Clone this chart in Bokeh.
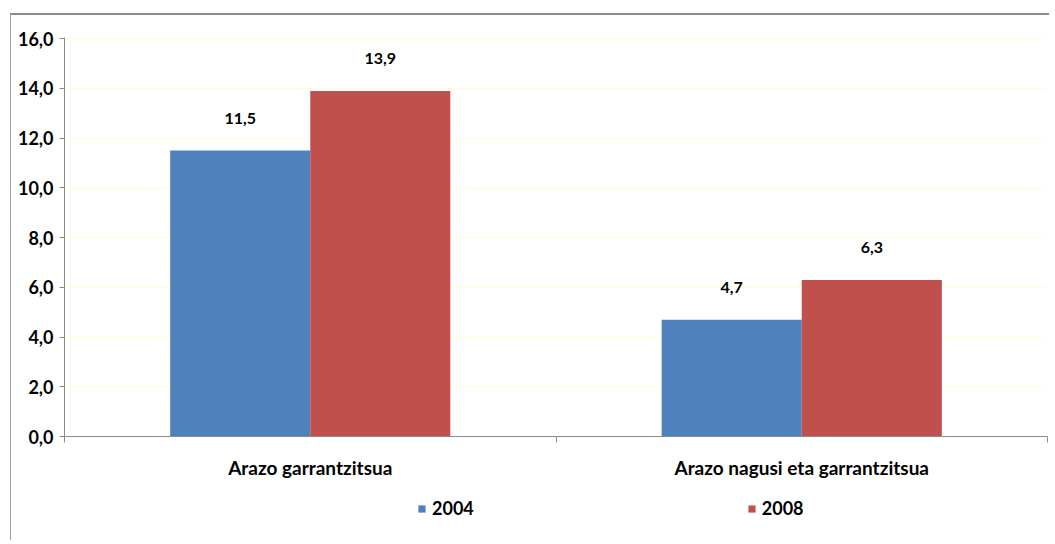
from bokeh.plotting import figure
from bokeh.layouts import column
from bokeh.models import (ColumnDataSource, FixedTicker, Range1d, Legend, LegendItem)
from bokeh.core.properties import value
from bokeh.embed import file_html
from bokeh.resources import INLINE

categories = ["Arazo garrantzitsua", "Arazo nagusi eta garrantzitsua"]
series_names = ["2004", "2008"]
values_2004 = [11.5, 4.7]
values_2008 = [13.9, 6.3]
colors = ["#4F81BD", "#C0504D"]
y_ticks = [0, 2, 4, 6, 8, 10, 12, 14, 16]
y_tick_labels = ["0,0", "2,0", "4,0", "6,0", "8,0", "10,0", "12,0", "14,0", "16,0"]

FONT = "Lato"
BAR_W = 0.285
W = 1038

p = figure(width=W, height=475, output_backend="svg", toolbar_location=None,
           x_range=Range1d(0, len(categories)), y_range=Range1d(0, 16.05),
           min_border_left=53, min_border_top=22, min_border_bottom=54, min_border_right=2)
p.outline_line_color = None
p.background_fill_color = "white"
p.border_fill_color = "white"

centers = [i + 0.5 for i in range(len(categories))]
series_values = [values_2004, values_2008]
for k, (vals, col) in enumerate(zip(series_values, colors)):
    xs = [c + (k - 0.5) * BAR_W for c in centers]
    src = ColumnDataSource(dict(x=xs, top=vals, lab=[f"{v:.1f}".replace(".", ",") for v in vals]))
    p.vbar(x="x", top="top", width=BAR_W, bottom=0, fill_color=col, line_color=None, source=src)
    p.text(x="x", y="top", text="lab", source=src, text_align="center", text_baseline="middle",
           y_offset=-32, text_font=value(FONT), text_font_style="bold", text_font_size="16px",
           text_color="black")

# grid
p.xgrid.grid_line_color = None
p.ygrid.ticker = FixedTicker(ticks=y_ticks)
p.ygrid.grid_line_color = "#FFFFD0"
p.ygrid.grid_line_width = 1

# y axis
ya = p.yaxis[0]
ya.ticker = FixedTicker(ticks=y_ticks)
ya.major_label_overrides = {t: l for t, l in zip(y_ticks, y_tick_labels)}
ya.axis_line_color = "#8a8a8a"
ya.major_tick_line_color = "#8a8a8a"
ya.major_tick_out = 5
ya.major_tick_in = 0
ya.minor_tick_line_color = None
ya.major_label_text_font = FONT
ya.major_label_text_font_style = "bold"
ya.major_label_text_font_size = "18px"
ya.major_label_text_color = "black"
ya.major_label_standoff = 6

# x axis
xa = p.xaxis[0]
xa.ticker = FixedTicker(ticks=centers, minor_ticks=[0, 1, 2])
xa.major_label_overrides = {c: n for c, n in zip(centers, categories)}
xa.axis_line_color = "#8a8a8a"
xa.major_tick_line_color = None
xa.major_tick_out = 0
xa.major_tick_in = 0
xa.minor_tick_line_color = "#8a8a8a"
xa.minor_tick_out = 6
xa.minor_tick_in = 0
xa.major_label_text_font = FONT
xa.major_label_text_font_style = "bold"
xa.major_label_text_font_size = "19px"
xa.major_label_text_color = "black"
xa.major_label_standoff = 13

# legend strip below the chart
p2 = figure(width=W, height=50, output_backend="svg", toolbar_location=None,
            x_range=Range1d(0, len(categories)), y_range=Range1d(0, 16.05),
            min_border_left=0, min_border_right=0, min_border_top=0, min_border_bottom=0)
p2.xaxis.visible = False
p2.yaxis.visible = False
p2.grid.visible = False
p2.outline_line_color = None
p2.background_fill_color = "white"
p2.border_fill_color = "white"
leg_renderers = []
for vals, col in zip(series_values, colors):
    r = p2.vbar(x=centers, top=vals, width=BAR_W, fill_color=col, line_color=None)
    r.visible = False
    leg_renderers.append(r)

legend = Legend(items=[LegendItem(label=n, renderers=[r]) for n, r in zip(series_names, leg_renderers)],
                orientation="horizontal", location=(353, 21), spacing=273,
                glyph_width=9, glyph_height=9, label_standoff=6, padding=0, margin=0,
                border_line_color=None, background_fill_alpha=0,
                label_text_font=FONT, label_text_font_style="bold", label_text_font_size="18px",
                label_text_color="black")
p2.add_layout(legend, "center")

layout = column(p, p2, spacing=0)
layout.styles = {"margin-left": "10px", "margin-top": "13px",
                 "border-left": "1px solid #a0a0a0", "border-top": "2px solid #8c8c8c"}

open("out.html", "w").write(file_html(layout, INLINE))
